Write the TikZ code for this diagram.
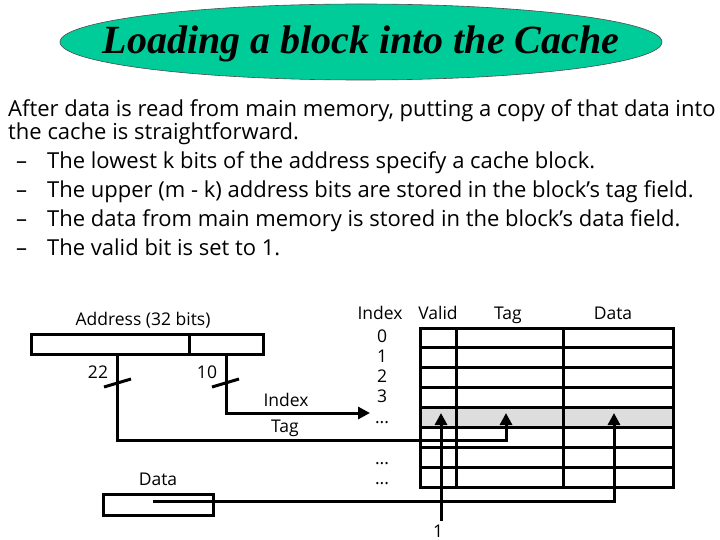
\documentclass[tikz,border=0pt]{standalone}
\usepackage{fontspec}
\setmainfont{Liberation Serif}
\newfontfamily\bodyfont{Open Sans}
\usetikzlibrary{arrows.meta}
\definecolor{titlegreen}{RGB}{0,204,153}
\definecolor{rowgray}{RGB}{221,221,221}
\begin{document}
\begin{tikzpicture}[x=1pt,y=-1pt,
  bodytext/.style={anchor=base west,inner sep=0pt,font=\bodyfont\fontsize{22}{26}\selectfont},
  lbl/.style={anchor=base,inner sep=0pt,font=\bodyfont\fontsize{17.5}{20}\selectfont},
  wire/.style={line width=3pt},
  arr/.style={line width=3pt,-{Triangle[length=12pt,width=12pt]}},
  box/.style={draw,line width=3pt,inner sep=0pt,minimum height=20pt}]
\useasboundingbox (0,0) rectangle (720,540);
% title
\draw[draw=black!70,line width=0.6pt,fill=titlegreen] (361,42) ellipse [x radius=301, y radius=38];
\node (title) [anchor=base,inner sep=0pt] at (361,54) {\fontsize{40}{44}\selectfont\bfseries\itshape Loading a block into the Cache};
% body text
\node (l1) [bodytext] at (8,117) {After data is read from main memory, putting a copy of that data into};
\node (l2) [bodytext] at (8,140) {the cache is straightforward.};
\node (d1) [bodytext] at (16,169) {–};
\node (b1) [bodytext] at (47,169) {The lowest k bits of the address specify a cache block.};
\node (d2) [bodytext] at (16,198) {–};
\node (b2) [bodytext] at (47,198) {The upper (m - k) address bits are stored in the block’s tag field.};
\node (d3) [bodytext] at (16,226) {–};
\node (b3) [bodytext] at (47,226) {The data from main memory is stored in the block’s data field.};
\node (d4) [bodytext] at (16,255) {–};
\node (b4) [bodytext] at (47,255) {The valid bit is set to 1.};
% address register
\node (addrlbl) [lbl] at (143,325) {Address (32 bits)};
\node (addrhi) [box,minimum width=158pt,anchor=north west] at (30,333) {};
\node (addrlo) [box,minimum width=74pt,anchor=north west] at (188,333) {};
% wires
\coordinate (tagtop) at (117,353);
\coordinate (idxtop) at (226,353);
\node (n22) [lbl] at (98,378) {22};
\node (n10) [lbl] at (207,378) {10};
\draw[wire] (104,387) -- (131,379);
\draw[wire] (212,387) -- (239,379);
\node (idxlbl) [lbl] at (286,406) {Index};
\node (taglbl) [lbl] at (285,432) {Tag};
% table
\fill[rowgray] (419,407) rectangle (672,427);
\foreach \yy in {347,367,387,407,427,447,467} \draw[line width=3pt] (419,\yy) -- (672,\yy);
\draw[line width=3pt] (456,327) -- (456,486);
\draw[line width=3pt] (563,327) -- (563,486);
\node (table) [draw,line width=3pt,minimum width=253pt,minimum height=159pt,inner sep=0pt,anchor=north west] at (419,327) {};
\node (hidx) [lbl] at (380,319) {Index};
\node (hval) [lbl] at (438,319) {Valid};
\node (htag) [lbl] at (508,319) {Tag};
\node (hdat) [lbl] at (613,319) {Data};
\node (i0) [lbl] at (382,342) {0};
\node (i1) [lbl] at (382,362) {1};
\node (i2) [lbl] at (382,382) {2};
\node (i3) [lbl] at (382,402) {3};
\node (i4) [lbl] at (382,423) {...};
\node (i5) [lbl] at (382,464) {...};
\node (i6) [lbl] at (382,484) {...};
% data register
\node (datalbl) [lbl] at (158,485) {Data};
\node (databox) [box,minimum width=110pt,minimum height=21pt,anchor=north west] at (102,493) {};
\coordinate (datastart) at (153,501);
\coordinate (one) at (441,521);
\node (onelbl) [lbl] at (438,537) {1};
% arrow targets
\coordinate (idxtip) at (370,413);
\coordinate (tagtip) at (506,413);
\coordinate (datatip) at (614,413);
\coordinate (validtip) at (441,413);
\draw[arr] (idxtop) |- (idxtip);
\draw[arr] (tagtop) |- (506,440) -- (tagtip);
\draw[arr] (datastart) -| (datatip);
\draw[arr] (one) -- (validtip);
\end{tikzpicture}
\end{document}
